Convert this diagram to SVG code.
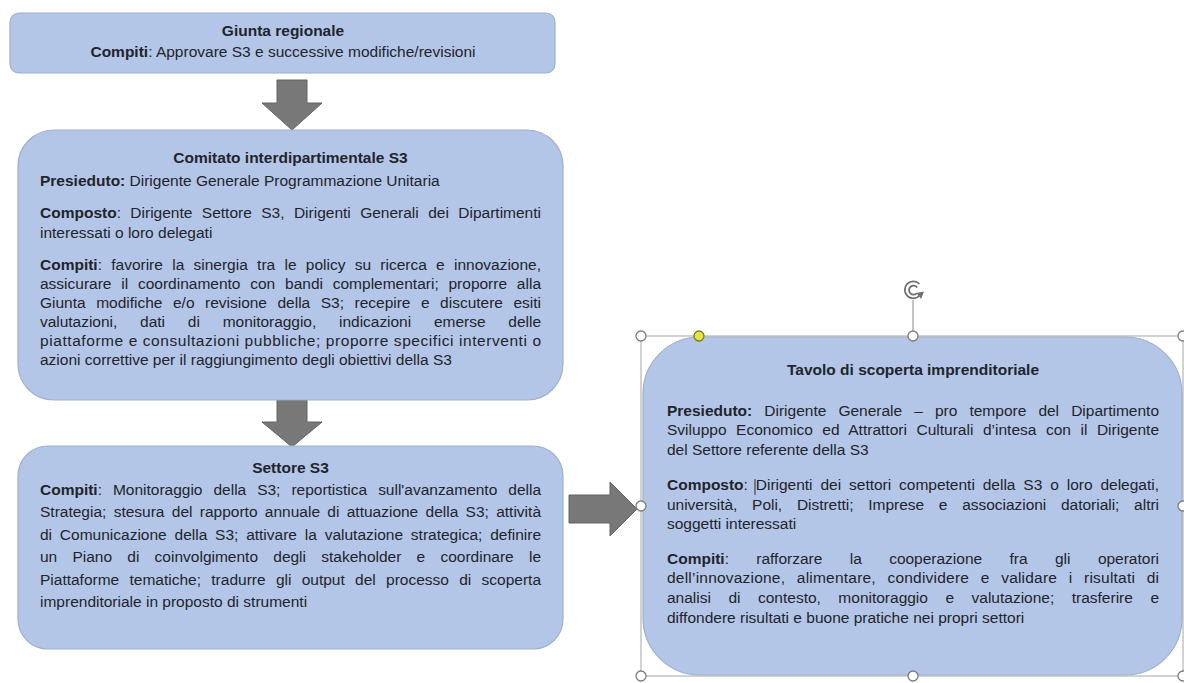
<svg xmlns="http://www.w3.org/2000/svg" width="1184" height="683" viewBox="0 0 1184 683">
<style>
.box{fill:#b4c6e7;stroke:#9fb0cc;stroke-width:1.2}
.arrow{fill:#787878;stroke:#636363;stroke-width:1}
text{font-family:"Liberation Sans",Arial,sans-serif;font-size:15.5px;fill:#22242c}
.b{font-weight:bold}
.c{text-anchor:middle}
.h{fill:#ffffff;stroke:#7c7c7c;stroke-width:1.3}
.fr{fill:none;stroke:#a6a6a6;stroke-width:1}
</style>
<rect width="1184" height="683" fill="#ffffff"/>

<g id="connectors">
<polygon class="arrow" points="277,80 307,80 307,103 322,103 292,130 262,103 277,103"/>
<polygon class="arrow" points="277,400 307,400 307,422 322,422 292,447 262,422 277,422"/>
<polygon class="arrow" points="569,495 610,495 610,482 637,509 610,536 610,523 569,523"/>
</g>

<g id="giunta">
<rect class="box" x="10" y="13" width="545" height="60" rx="9"/>
<text class="b c" x="283" y="36">Giunta regionale</text>
<text class="c" x="283" y="56.5"><tspan class="b">Compiti</tspan>: Approvare S3 e successive modifiche/revisioni</text>
</g>

<g id="comitato">
<rect class="box" x="18" y="130" width="545" height="270" rx="36"/>
<text class="b c" x="290.5" y="162.5">Comitato interdipartimentale S3</text>
<text x="40" y="185.5"><tspan class="b">Presieduto:</tspan> Dirigente Generale Programmazione Unitaria</text>
<text x="40" y="217.5" word-spacing="5.1" textLength="501" lengthAdjust="spacing"><tspan class="b">Composto</tspan>: Dirigente Settore S3, Dirigenti Generali dei Dipartimenti</text>
<text x="40" y="237.5">interessati o loro delegati</text>
<text x="40" y="269.5" word-spacing="5" textLength="501" lengthAdjust="spacing"><tspan class="b">Compiti</tspan>: favorire la sinergia tra le policy su ricerca e innovazione,</text>
<text x="40" y="288.5" word-spacing="5.5" textLength="501" lengthAdjust="spacing">assicurare il coordinamento con bandi complementari; proporre alla</text>
<text x="40" y="307.5" word-spacing="6.2" textLength="501" lengthAdjust="spacing">Giunta modifiche e/o revisione della S3; recepire e discutere esiti</text>
<text x="40" y="326.5" word-spacing="18.6" textLength="501" lengthAdjust="spacing">valutazioni, dati di monitoraggio, indicazioni emerse delle</text>
<text x="40" y="345.5" textLength="501" lengthAdjust="spacing">piattaforme e consultazioni pubbliche; proporre specifici interventi o</text>
<text x="40" y="364.5">azioni correttive per il raggiungimento degli obiettivi della S3</text>
</g>

<g id="settore">
<rect class="box" x="18" y="446" width="545" height="203" rx="30"/>
<text class="b c" x="290.5" y="472.5">Settore S3</text>
<text x="40" y="494.5" word-spacing="6.7" textLength="501" lengthAdjust="spacing"><tspan class="b">Compiti</tspan>: Monitoraggio della S3; reportistica sull'avanzamento della</text>
<text x="40" y="517" word-spacing="3" textLength="501" lengthAdjust="spacing">Strategia; stesura del rapporto annuale di attuazione della S3; attività</text>
<text x="40" y="539.5" word-spacing="3.5" textLength="501" lengthAdjust="spacing">di Comunicazione della S3; attivare la valutazione strategica; definire</text>
<text x="40" y="562" word-spacing="10.9" textLength="501" lengthAdjust="spacing">un Piano di coinvolgimento degli stakeholder e coordinare le</text>
<text x="40" y="584.5" word-spacing="6" textLength="501" lengthAdjust="spacing">Piattaforme tematiche; tradurre gli output del processo di scoperta</text>
<text x="40" y="607">imprenditoriale in proposto di strumenti</text>
</g>

<g id="tavolo">
<rect class="box" x="643" y="337" width="539" height="338" rx="57"/>
<text class="b c" x="913" y="375">Tavolo di scoperta imprenditoriale</text>
<text x="667" y="416" word-spacing="7.8" textLength="492" lengthAdjust="spacing"><tspan class="b">Presieduto:</tspan> Dirigente Generale – pro tempore del Dipartimento</text>
<text x="667" y="435" word-spacing="5.2" textLength="492" lengthAdjust="spacing">Sviluppo Economico ed Attrattori Culturali d’intesa con il Dirigente</text>
<text x="667" y="455">del Settore referente della S3</text>
<text x="667" y="490" word-spacing="3.6" textLength="492" lengthAdjust="spacing"><tspan class="b">Composto</tspan>: Dirigenti dei settori competenti della S3 o loro delegati,</text>
<text x="667" y="510" word-spacing="10.5" textLength="492" lengthAdjust="spacing">università, Poli, Distretti; Imprese e associazioni datoriali; altri</text>
<text x="667" y="529">soggetti interessati</text>
<text x="667" y="564" word-spacing="23.1" textLength="492" lengthAdjust="spacing"><tspan class="b">Compiti</tspan>: rafforzare la cooperazione fra gli operatori</text>
<text x="667" y="583" word-spacing="7.1" textLength="492" lengthAdjust="spacing">dell’innovazione, alimentare, condividere e validare i risultati di</text>
<text x="667" y="603" word-spacing="13.2" textLength="492" lengthAdjust="spacing">analisi di contesto, monitoraggio e valutazione; trasferire e</text>
<text x="667" y="623">diffondere risultati e buone pratiche nei propri settori</text>
<line x1="755" y1="479" x2="755" y2="495" stroke="#333" stroke-width="1"/>
</g>

<g id="selection">
<rect class="fr" x="641" y="336" width="542" height="340"/>
<line x1="913" y1="300" x2="913" y2="331" stroke="#8a8a8a" stroke-width="1"/>
<g fill="none" stroke="#6e6e6e" stroke-width="1.8">
<path d="M920,295 A8.5,8.5 0 1,1 919.5,284"/>
<path d="M917,293 A4.5,4.5 0 1,1 917.2,287.5"/>
</g>
<polygon points="916.5,293 924,291.5 921,299" fill="#6e6e6e"/>
<circle class="h" cx="641" cy="336" r="5"/>
<circle class="h" cx="913" cy="336" r="5"/>
<circle class="h" cx="1183" cy="336" r="5"/>
<circle class="h" cx="641" cy="506" r="5"/>
<circle class="h" cx="1183" cy="506" r="5"/>
<circle class="h" cx="641" cy="676" r="5"/>
<circle class="h" cx="913" cy="676" r="5"/>
<circle class="h" cx="1183" cy="676" r="5"/>
<circle cx="699" cy="336" r="5" fill="#e3e34a" stroke="#7d7d1a" stroke-width="1.3"/>
</g>
</svg>
